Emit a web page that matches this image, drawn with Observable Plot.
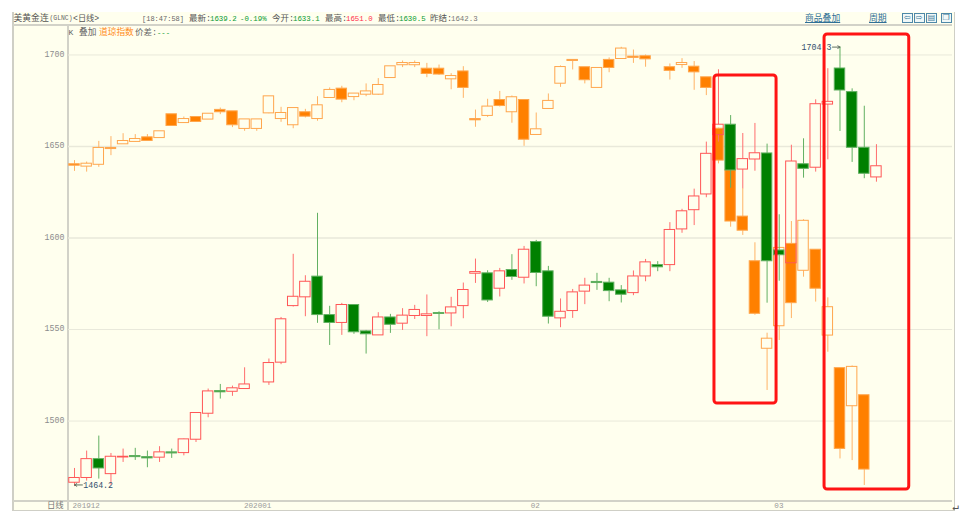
<!DOCTYPE html>
<html lang="zh">
<head>
<meta charset="utf-8">
<script src="https://cdn.jsdelivr.net/npm/d3@7"></script>
<script src="https://cdn.jsdelivr.net/npm/@observablehq/plot@0.6"></script>
<style>
html,body{margin:0;padding:0;background:#fff;width:962px;height:521px;overflow:hidden}
#panel{position:absolute;left:12px;top:12px;width:940px;height:498px;background:#FFFFEE;border:solid #CFCFC6;border-width:0 1px 1px 2px}
#chart{position:absolute;left:0;top:0}
#chart svg{background:transparent!important;display:block}
.ln{position:absolute;background:#D2D2C8}
.t{position:absolute;white-space:pre;font-family:"Liberation Mono","Noto Sans CJK SC",monospace;line-height:12px;height:12px;color:#666}
.ic{position:absolute;top:13px;width:9px;height:8px;border:1px solid #4E88A8;color:#3A7898;font:8px/8px "DejaVu Sans";text-align:center;overflow:hidden;background:#F0F8F8}
</style>
</head>
<body>
<div id="panel"></div>
<div class="ln" style="left:13px;top:24px;width:939px;height:1.5px"></div>
<div class="ln" style="left:13px;top:500px;width:939px;height:1.5px"></div>
<div class="ln" style="left:67px;top:25px;width:1.5px;height:486px"></div>
<div id="chart"></div>
<div id="head"></div>
<script>
// Main contract: gold, daily candles (null = no session drawn)
const goldOpen  = [1466.3,1468.9,1479.2,1471,1480.1,1480.9,1480.3,1480,1482.9,1482.5,1489.8,1504,1516.4,1516,1517.5,null,1521.1,1531.9,1562.8,1567.6,1578.9,1557.9,1553.6,1563.4,1549,1546.8,1556.6,1553.2,1557.4,1557.4,1559,1558.8,1562.8,1580.5,1580.7,1572.3,1582.5,1578.3,1597.8,1581.8,1556.1,1560.1,1570.7,1576,1575.6,1571.4,1569.9,1579,1585.2,1585.2,1604.7,1615.2,1623.8,1656.2,1661.9,1637.4,1642.9,1646.2,1593.2,1586.2,1640.3,1638.4,1672.9,1692.6,1679.7,1649.3,1633.1];
const goldHigh  = [1474.1,1483.6,1491.8,1482.3,1484.7,1485.1,1483.6,1486,1484.7,1490.2,1504.6,1517.5,1520,1519.1,1529.1,null,1533.9,1556.6,1591.1,1579.4,1613.5,1562.7,1564.3,1563.4,1549.5,1559.2,1558.3,1561.4,1563.2,1568.9,1559.7,1567.6,1575.4,1588.5,1582.1,1583.4,1590.9,1595.4,1598.7,1584.5,1566.7,1571.9,1578,1580.7,1578,1574,1582,1588.3,1587.1,1608.4,1615.7,1626.7,1652.4,1691.9,1666.9,1657.1,1662.6,1651.3,1612.7,1650.7,1654.2,1675.5,1692.5,1704.3,1681.5,1672,1651];
const goldLow   = [1464.2,1467.2,1468.3,1465,1477.4,1478.5,1474.5,1477.4,1479.6,1481,1488.3,1501.8,1512,1513.5,1517.5,null,1519.5,1530.8,1562.3,1557,1553.4,1541.3,1546.8,1547.4,1536.6,1546.8,1547.9,1549.5,1555.5,1546.1,1549.9,1551.5,1555.9,1575.2,1564.8,1567.8,1576.9,1574.9,1573.4,1553,1551,1556.1,1563.6,1571.4,1565.2,1564.5,1568.5,1576.1,1581.6,1581.6,1602.6,1606.8,1622,1652.4,1627.2,1626.9,1636.5,1564.4,1576.4,1586.2,1632.7,1636,1642.7,1658.2,1641.3,1632.4,1630.5];
const goldClose = [1468.9,1479.2,1474.1,1480.5,1480.5,1480.3,1479.6,1482.9,1482.3,1490,1504.4,1516.2,1515.7,1517.9,1520,null,1531.7,1555.6,1567.9,1576.1,1557.9,1553.6,1563.4,1548.5,1547.4,1556.6,1552.6,1557.6,1560.7,1558.3,1558.5,1562.1,1571.6,1581.4,1565.9,1581.8,1578.7,1593.6,1580.9,1557,1559.7,1570.3,1574,1575.4,1571,1569,1579,1586.7,1584,1604.4,1614.6,1622.7,1646,1661.9,1636.9,1643.1,1646.3,1587.3,1590.6,1641.8,1637.8,1673.1,1674.4,1680.6,1649.3,1635.1,1639.2];

// Overlay: Dow Jones index, drawn on the same axis (null = no session drawn)
const dowOpen  = [1640.3,1639,1640,1649.2,1651.2,1652.5,1655,1654.6,1667.6,1662.8,1666.1,1664.7,1670,1669.2,1659.6,1659.6,1668.1,1665,1661.6,1668.7,1665,1676.5,1681.6,1677,1678.3,1678.3,1687.4,1694.4,1694.4,1692.5,1692.5,1686.7,1691,1665,1666.7,1675.4,1668.7,1675.4,1656.3,1670.5,1684.3,1697.3,1693.3,1682,1697.3,1697.8,1699.1,1699.3,null,1693.3,1694.5,1693.6,1687.8,1659.7,1637,1611.7,1587.3,1539.5,1551.8,1596.8,1582.1,1593.6,1546.7,1528.9,1508.1,1514.1,null];
const dowHigh  = [1642.3,1641.5,1652.8,1655.4,1657,1656.5,1656.5,1658.3,1667.6,1666.1,1666.1,1667.9,1671,1669.2,1664.8,1664.8,1677.4,1671.4,1671,1670.3,1677.2,1682,1682.9,1678.9,1684.2,1687.1,1693.8,1696.7,1696.7,1695.4,1694.5,1689.8,1693.6,1669.9,1675.8,1680.1,1677.6,1675.4,1668.3,1678.7,1694,1697.3,1693.3,1692.9,1698.4,1704.2,1702.7,1700,null,1695.1,1698,1696.4,1687.8,1660,1637,1627,1597.4,1548,1594.6,1609,1610,1593.6,1567.3,1528.9,1530.1,1514.1,null];
const dowLow   = [1636.4,1636,1638.6,1645,1651.2,1652.3,1653,1654.6,1661.2,1662.6,1663.4,1664.7,1667.4,1660.3,1658.3,1658.3,1667.9,1663.2,1659.7,1665.6,1663.8,1676.3,1673.9,1675,1677.2,1678,1687.4,1693.1,1693.1,1687.6,1688.9,1681,1676.3,1660.5,1665.9,1671.6,1662.7,1650.1,1656.3,1670.5,1682.3,1691.8,1684.2,1682,1690.3,1697.6,1695.4,1693.3,null,1686.3,1692.7,1680.7,1677.8,1640.5,1605.9,1601.4,1557.8,1516.7,1544,1556,1578.6,1565,1537.6,1479.3,1478.4,1464.8,null];
const dowClose = [1639.5,1640.6,1649.2,1648.6,1653,1654.1,1653,1658.3,1661.2,1665,1663.4,1667.9,1668.7,1661.6,1664.8,1664.8,1677.4,1668.3,1671,1666.3,1672.5,1680.9,1675.6,1678.9,1680.1,1683.6,1693.8,1695.6,1695.6,1689.6,1689.3,1688.5,1682,1664.3,1671.8,1672.1,1676.9,1653.7,1659.4,1674.9,1693.4,1696.7,1686.2,1692.9,1692.9,1703.5,1698.4,1697.6,null,1691.3,1695.6,1690.5,1682,1642.3,1609,1604,1558.6,1545,1594.6,1564.4,1609.4,1572.3,1562.2,1484.8,1529.6,1473.5,null];

const priceTicks = [1500,1550,1600,1650,1700];
const dateLabels = ["201912","202001","02","03"];
const dateSlots  = [-0.16,13.95,37.55,57.6];
// Extremes called out on the chart: slot of the candle, price
const extremeHigh = {slot:63, price:1704.3};
const extremeLow  = {slot:0, price:1464.2};
// Hand-drawn highlight frames, in [slot, price] terms
const boxSlotStart = [52.67,61.73];
const boxSlotEnd   = [57.78,68.7];
const boxPriceHigh = [1688.8,1711.2];
const boxPriceLow  = [1509.6,1462.6];

const colors = {
  goldUp:"#FF5656", goldDown:"#008000", goldDownEdge:"#5FAF5F",
  dowUp:"#FFA64D", dowDown:"#FF8000", dowDownEdge:"#FFA64D"
};

function table(o,h,l,c){
  return o.map((v,i)=>v==null?null:{i,o:v,h:h[i],l:l[i],c:c[i],top:Math.max(v,c[i]),bot:Math.min(v,c[i]),up:c[i]>=v}).filter(Boolean);
}
const gold = table(goldOpen,goldHigh,goldLow,goldClose);
const dow  = table(dowOpen,dowHigh,dowLow,dowClose);

function candles(rows, upC, downC, edgeC, wickUp, wickDown){
  const wick = d => d.up ? wickUp : wickDown;
  return [
    Plot.ruleX(rows,{x:"i",y1:"h",y2:"top",stroke:wick,strokeWidth:1}),
    Plot.ruleX(rows,{x:"i",y1:"bot",y2:"l",stroke:wick,strokeWidth:1}),
    Plot.rect(rows,{x1:d=>d.i-0.43,x2:d=>d.i+0.43,y1:"bot",y2:"top",
      fill:d=>d.up?"none":downC,stroke:d=>d.up?upC:edgeC,strokeWidth:1})
  ];
}
const mono = '"Liberation Mono","Noto Sans CJK SC",monospace';
const boxes = boxSlotStart.map((s,k)=>({s,e:boxSlotEnd[k],hi:boxPriceHigh[k],lo:boxPriceLow[k]}));
const callout = {fontFamily:mono,fontSize:8.3,fill:"#33506E"};

const chart = Plot.plot({
  width:962, height:521,
  marginLeft:68, marginRight:10, marginTop:25, marginBottom:21,
  x:{type:"linear",domain:[-0.494,72.26],axis:null},
  y:{domain:[1456.6,1716.1]},
  style:{background:"transparent"},
  marks:[
    Plot.ruleY(priceTicks,{stroke:"#E9E9DA",strokeWidth:d=>(d===1650||d===1600)?1.5:1}),
    Plot.axisY({ticks:priceTicks,tickSize:0,tickPadding:4,label:null,fill:"#8C8C8C",fontSize:8.3,dy:-1,fontFamily:mono,tickFormat:d=>String(d)}),
    ...candles(dow,colors.dowUp,colors.dowDown,colors.dowDownEdge,"#FFB366","#FFB366"),
    ...candles(gold,colors.goldUp,colors.goldDown,colors.goldDownEdge,"#FF6E6E","#62B062"),
    Plot.text([extremeHigh],{x:"slot",y:"price",text:d=>d.price.toFixed(1),dx:-8.5,textAnchor:"end",...callout}),
    Plot.arrow([extremeHigh],{x1:d=>d.slot-0.62,x2:"slot",y:"price",stroke:"#5E7060",strokeWidth:1,headLength:4,inset:0,bend:false}),
    Plot.text([extremeLow],{x:"slot",y:"price",dy:-1.5,dx:8.7,text:d=>d.price.toFixed(1),textAnchor:"start",...callout}),
    Plot.arrow([extremeLow],{x1:d=>d.slot+0.65,x2:"slot",y:d=>d.price+0.9,stroke:"#5E7060",strokeWidth:1,headLength:4,inset:0,bend:false}),
    Plot.text(dateLabels,{x:(d,k)=>dateSlots[k],frameAnchor:"bottom",lineAnchor:"top",dy:2,textAnchor:"start",fontFamily:mono,fontSize:7.6,fill:"#9A9A9A"}),
    Plot.rect(boxes,{x1:"s",x2:"e",y1:"lo",y2:"hi",fill:"none",stroke:"#FF1414",strokeWidth:3,r:3})
  ]
});
document.getElementById("chart").append(chart);

// Terminal header strip
const headerRuns = [
  [13.5,18.5,"美黄金连","#555",8.8],[49.5,18.5,"(GLNC)","#666",6.4],[73,18.5,"<日线>","#555",8.2],
  [142,18.5,"[18:47:58]","#666",7],[189,18.5,"最新:","#555",8.5],[210,18.5,"1639.2","#0A9A32",7.4],[240,18.5,"-0.19%","#0A9A32",7.4],
  [272,18.5,"今开:","#555",8.5],[293,18.5,"1633.1","#0A9A32",7.4],[325,18.5,"最高:","#555",8.5],[346,18.5,"1651.0","#FF2E4C",7.4],
  [378,18.5,"最低:","#555",8.5],[399,18.5,"1630.5","#0A9A32",7.4],[430,18.5,"昨结:","#555",8.5],[451,18.5,"1642.3","#777",7.4],
  [68.5,32.5,"K","#666",8],[79,32.5,"叠加","#666",8.7],[99,32.5,"道琼指数","#FF8C1A",8.7],[135,32.5,"价差:","#666",8.5],[157,32.5,"---","#0A9A32",7.2],
  [47,505.7,"日线","#777",8.4],[952.5,507,"↵","#555",11]
];
const head = d3.select("#head");
headerRuns.forEach(([x,y,s,c,f])=>{
  head.append("div").attr("class","t").style("left",x+"px").style("top",(y-6)+"px").style("color",c).style("font-size",f+"px").text(s);
});
[[805,"商品叠加"],[869,"周期"]].forEach(([x,s])=>{
  head.append("div").attr("class","t").style("left",x+"px").style("top","12.5px").style("color","#2F6F96").style("font-size","8.8px").style("text-decoration","underline").text(s);
});
[[901.5,"⇦"],[913.5,"⇨"],[926,"▤"],[940.5,"❐"]].forEach(([x,s])=>{
  head.append("div").attr("class","ic").style("left",x+"px").text(s);
});
</script>
</body>
</html>
